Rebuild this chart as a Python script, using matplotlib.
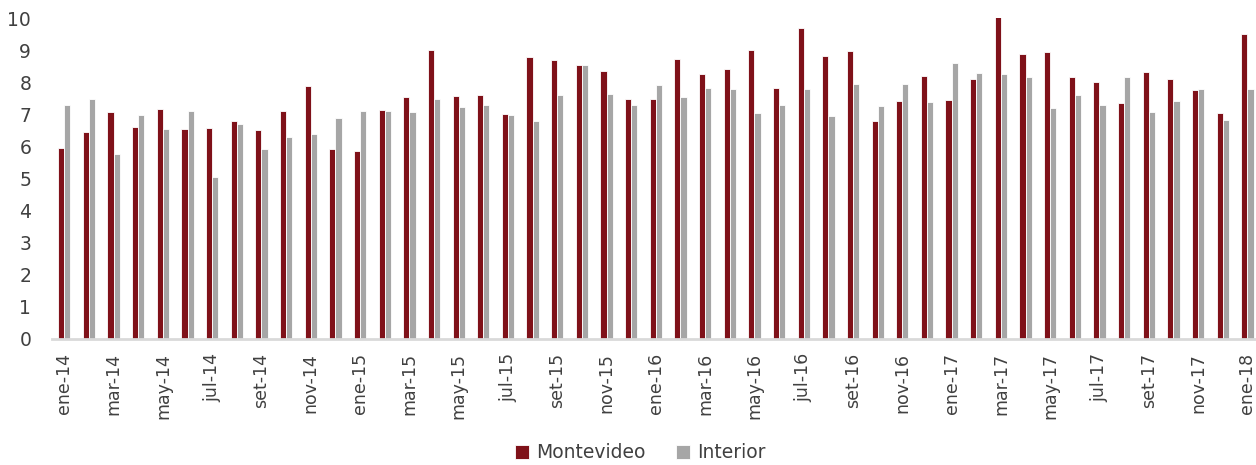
import matplotlib.pyplot as plt
import numpy as np

MONTHS = ["ene", "feb", "mar", "abr", "may", "jun", "jul", "ago", "set", "oct", "nov", "dic"]
LABELS = [f"{MONTHS[i % 12]}-{14 + i // 12}" for i in range(49)]

MONTEVIDEO = [
    5.95, 6.44, 7.06, 6.60, 7.17, 6.54, 6.57, 6.80, 6.50, 7.10, 7.88, 5.92,
    5.86, 7.13, 7.53, 9.00, 7.56, 7.59, 7.00, 8.78, 8.68, 8.54, 8.35, 7.49,
    7.49, 8.74, 8.25, 8.41, 9.00, 7.82, 9.69, 8.81, 8.97, 6.80, 7.42, 8.21,
    7.46, 8.11, 10.02, 8.87, 8.93, 8.18, 8.02, 7.36, 8.32, 8.11, 7.76, 7.03,
    9.49,
]
INTERIOR = [
    7.29, 7.47, 5.78, 6.97, 6.54, 7.10, 5.04, 6.70, 5.92, 6.31, 6.38, 6.88,
    7.10, 7.10, 7.06, 7.49, 7.23, 7.29, 6.97, 6.80, 7.59, 8.54, 7.62, 7.29,
    7.91, 7.53, 7.82, 7.79, 7.03, 7.29, 7.79, 6.94, 7.94, 7.26, 7.94, 7.39,
    8.61, 8.28, 8.25, 8.18, 7.20, 7.59, 7.29, 8.15, 7.06, 7.42, 7.79, 6.83,
    7.79,
]

RED = "#7f1119"
GREY = "#a6a6a6"
TEXT = "#404040"


def main() -> None:
    fig = plt.figure(figsize=(12.56, 4.65), dpi=100)
    ax = fig.add_axes([52 / 1256, 0.271, 1 - 52 / 1256, 0.690])

    x = np.arange(len(LABELS))
    width = 0.25
    ax.bar(x - width / 2, MONTEVIDEO, width, color=RED, edgecolor="white",
           linewidth=0.6, label="Montevideo")
    ax.bar(x + width / 2, INTERIOR, width, color=GREY, edgecolor="white",
           linewidth=0.6, label="Interior")

    ax.set_xlim(-0.5, 48.35)
    ax.set_ylim(0, 10)
    ax.set_yticks(range(0, 11))
    ax.set_xticks(x[::2])
    ax.set_xticklabels(LABELS[::2], rotation=90)

    for side in ("top", "right", "left"):
        ax.spines[side].set_visible(False)
    ax.spines["bottom"].set_color("#d9d9d9")
    ax.spines["bottom"].set_linewidth(2)

    ax.tick_params(axis="y", length=0, pad=15, labelsize=13.5, labelcolor=TEXT)
    ax.tick_params(axis="x", length=0, pad=10, labelsize=12.5, labelcolor=TEXT)

    fig.legend(loc="center", bbox_to_anchor=(0.51, 0.026), ncol=2, frameon=False,
               fontsize=13.5, labelcolor=TEXT, handlelength=0.75, handleheight=0.75,
               handletextpad=0.4, columnspacing=1.6)

    fig.savefig("out.png", dpi=100)


if __name__ == "__main__":
    main()
